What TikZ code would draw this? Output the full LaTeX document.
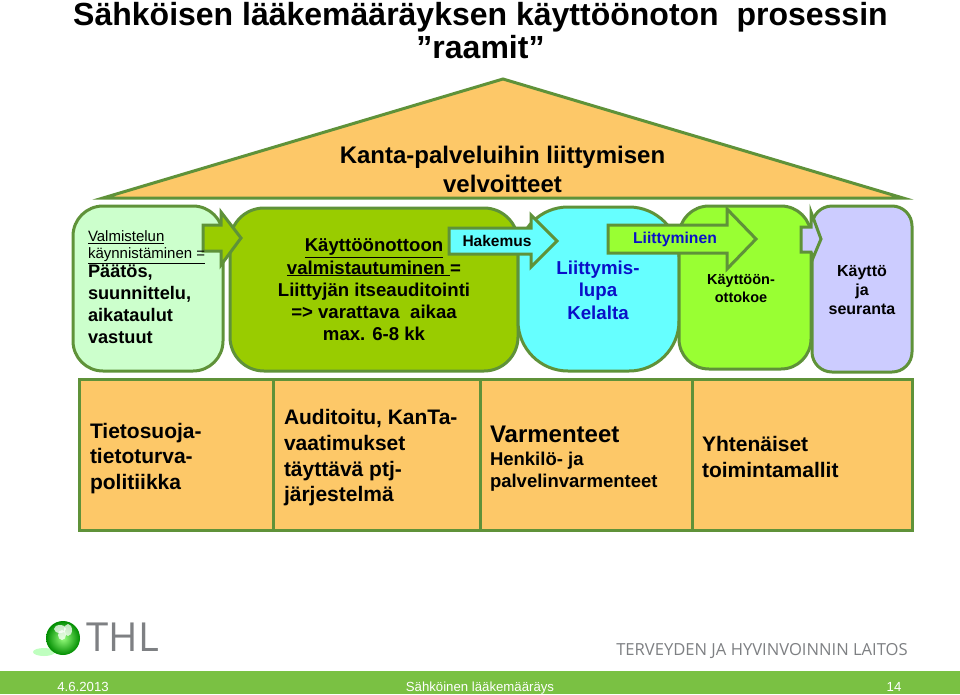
\documentclass[tikz,border=0pt]{standalone}
\usepackage{fontspec}
\setmainfont{Liberation Sans}
\newfontfamily\openf{Open Sans}
\definecolor{edgeg}{HTML}{5F9239}
\definecolor{roofc}{HTML}{FDC868}
\definecolor{boxa}{HTML}{CCFFCC}
\definecolor{boxb}{HTML}{99CC00}
\definecolor{boxc}{HTML}{66FFFF}
\definecolor{boxd}{HTML}{99FF33}
\definecolor{boxe}{HTML}{CCCCFF}
\definecolor{bandc}{HTML}{7AC143}
\definecolor{bluet}{HTML}{0A10C8}
\definecolor{grayt}{HTML}{7E8083}
\newcommand{\fs}[2]{\fontsize{#1}{#2}\selectfont}
\tikzset{
  shp/.style={draw=edgeg,line width=3pt,line join=miter},
  rbox/.style={shp,rounded corners=#1},
  lbl/.style={inner sep=0pt,outer sep=0pt,text=black},
  bt/.style={lbl,font=\bfseries\fs{21}{25.7},align=left,anchor=west},
  ft/.style={inner sep=0pt,text=white,anchor=base,font=\fs{13.2}{16}},
  ttl/.style={lbl,anchor=base,font=\bfseries\fs{32}{36}},
  rft/.style={lbl,anchor=base,font=\bfseries\fs{24}{29}},
}
\begin{document}
\begin{tikzpicture}[x=1pt,y=-1pt]
\useasboundingbox (0,0) rectangle (960,694);
\fill[white] (0,0) rectangle (960,694);
% title
\node[ttl] (title1) at (480.5,25.5) {Sähköisen lääkemääräyksen käyttöönoton\ \ prosessin};
\node[ttl] (title2) at (480.5,58) {”raamit”};
% roof
\draw[shp,fill=roofc] (103,198) -- (503,79) -- (903,198) -- cycle;
\node[rft] (rooft1) at (502.5,163) {Kanta-palveluihin liittymisen};
\node[rft] (rooft2) at (502.5,192) {velvoitteet};
% boxes
\draw[rbox=30pt,fill=boxa] (73,206) rectangle (223,371);
\draw[rbox=34pt,fill=boxb] (230,208) rectangle (518,371);
\draw[shp,fill=boxb] (203,225) -- (221,225) -- (221,212) -- (241,238) -- (221,265) -- (221,251) -- (203,251) -- cycle;
\draw[rbox=50pt,fill=boxc] (518,207) rectangle (679,371);
\draw[shp,fill=boxc] (449,228) -- (531,228) -- (531,215) -- (557,241) -- (531,267) -- (531,254) -- (449,254) -- cycle;
\draw[rbox=30pt,fill=boxd] (679,206) rectangle (811,369);
\draw[shp,fill=boxd] (608,225) -- (727,225) -- (727,209) -- (756,239) -- (727,269) -- (727,253) -- (608,253) -- cycle;
\draw[rbox=20pt,fill=boxe] (812,206) rectangle (912,372);
\draw[shp,fill=boxe] (801,227) -- (811,227) -- (811,212) -- (821,239) -- (813,258) -- (811,252) -- (801,252) -- cycle;
% box texts
\node[lbl,anchor=north west,align=left,font=\fs{15}{17}] (a1) at (88,231) {\underline{Valmistelun}\\\underline{käynnistäminen =}};
\node[lbl,anchor=north west,align=left,font=\bfseries\fs{18.2}{22}] (a2) at (88,265) {Päätös,\\suunnittelu,\\aikataulut\\vastuut};
\node[lbl,align=center,font=\bfseries\fs{18.6}{22.3}] (b1) at (374,290) {\underline{Käyttöönottoon}\\\underline{valmistautuminen }=\\Liittyjän itseauditointi\\=> varattava\ \ aikaa\\max. 6-8 kk};
\node[lbl,font=\bfseries\fs{15.5}{18}] (hak) at (497,241) {Hakemus};
\node[lbl,align=center,text=bluet,font=\bfseries\fs{18.7}{22.5}] (c1) at (598,290) {Liittymis-\\lupa\\Kelalta};
\node[lbl,text=bluet,font=\bfseries\fs{15.7}{18}] (lii) at (675,239) {Liittyminen};
\node[lbl,align=center,font=\bfseries\fs{14.5}{18.5}] (d1) at (741,288.5) {Käyttöön-\\ottokoe};
\node[lbl,align=center,font=\bfseries\fs{16}{19}] (e1) at (862,290) {Käyttö\\ja\\seuranta};
% bottom row
\draw[shp,fill=roofc] (79,379) rectangle (273,530);
\draw[shp,fill=roofc] (273,379) rectangle (480,530);
\draw[shp,fill=roofc] (480,379) rectangle (692,530);
\draw[shp,fill=roofc] (692,379) rectangle (912,530);
\node[bt] (f1) at (90,458.5) {Tietosuoja-\\tietoturva-\\politiikka};
\node[bt] (f2) at (284,458) {Auditoitu, KanTa-\\vaatimukset\\täyttävä ptj-\\järjestelmä};
\node[bt,font=\bfseries\fs{24}{28}] (f3) at (490,434) {Varmenteet};
\node[bt,font=\bfseries\fs{18.5}{22.5}] (f3b) at (490,471.5) {Henkilö- ja\\palvelinvarmenteet};
\node[bt] (f4) at (702,457) {Yhtenäiset\\toimintamallit};
% logo
\fill[green!25!white] (44,652) ellipse (11 and 4);
\shade[inner color=green!45!white!90!yellow,outer color=green!55!black] (63,638) circle (17);
\fill[white,opacity=.75] (60,629) ellipse (6 and 4);
\fill[white,opacity=.75] (68,630) ellipse (4 and 6);
\fill[white,opacity=.75] (62,635) ellipse (4 and 5);
\node[lbl,text=grayt,font=\openf\fs{40}{44}] (thl) at (123,637) {THL};
\node[lbl,text=grayt,font=\openf\fs{16.6}{18}] (laitos) at (762,651) {TERVEYDEN JA HYVINVOINNIN LAITOS};
% band
\fill[bandc] (0,671) rectangle (960,694);
\node[ft] (date) at (83,691) {4.6.2013};
\node[ft] (foot) at (480,691) {Sähköinen lääkemääräys};
\node[ft] (num) at (894,691) {14};
\end{tikzpicture}
\end{document}
